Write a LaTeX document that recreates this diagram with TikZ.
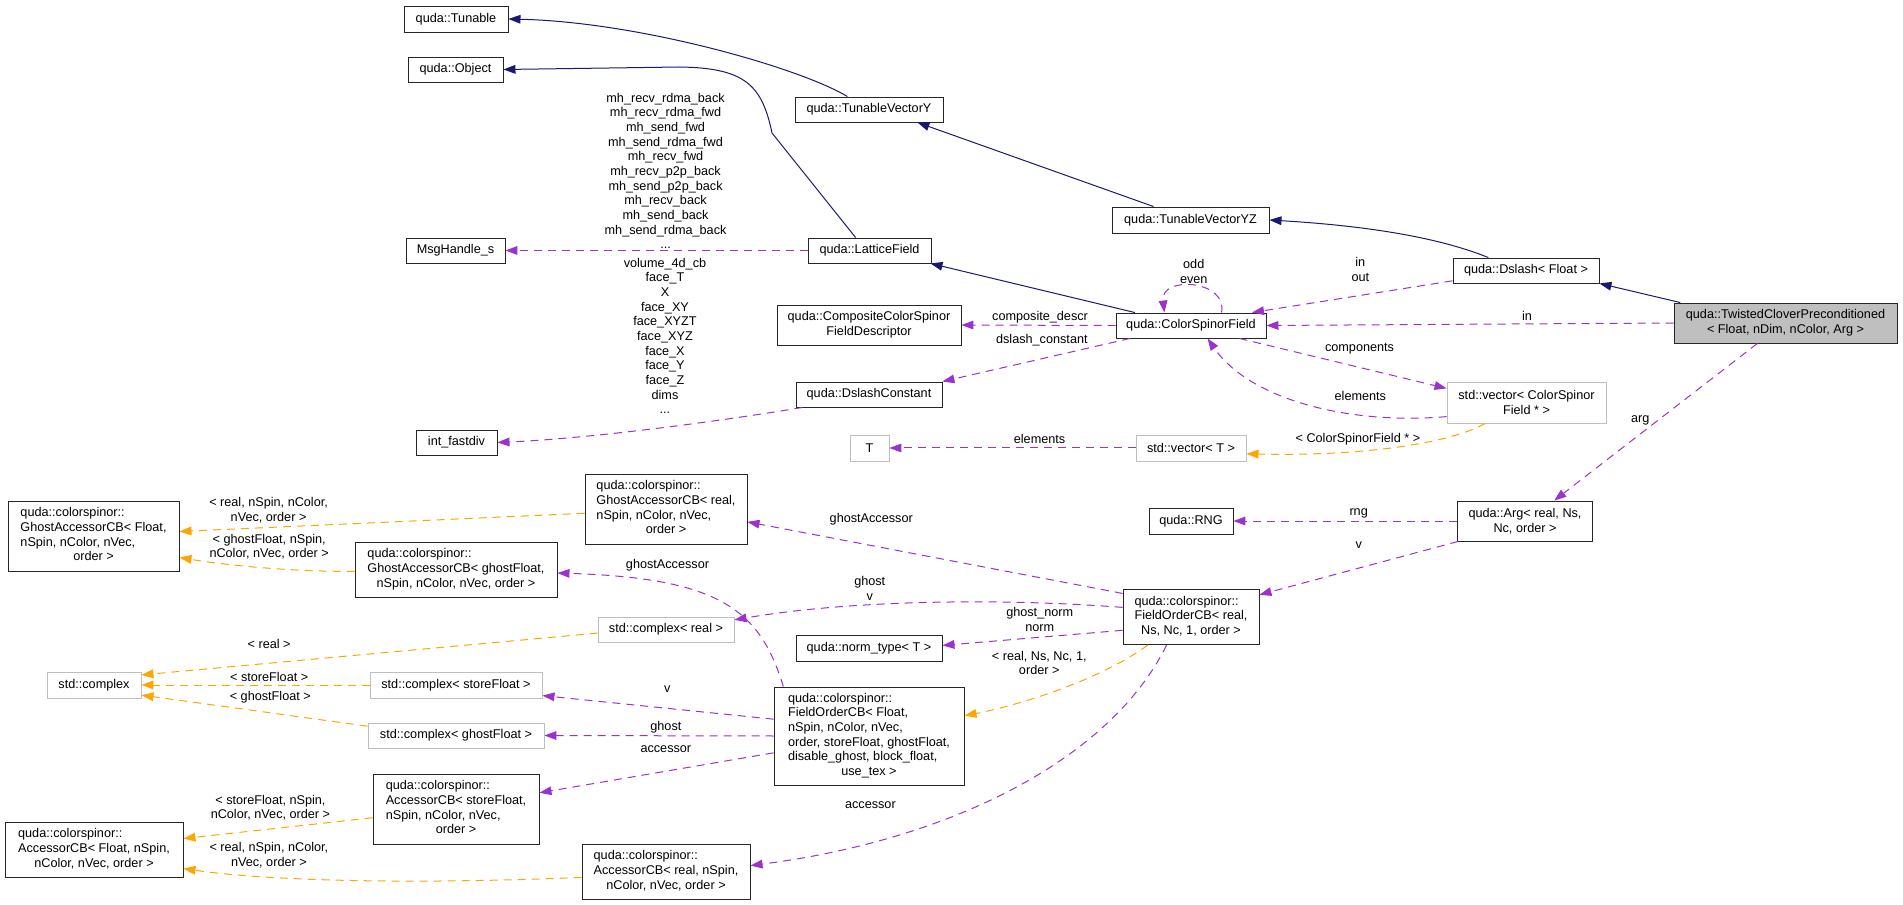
\documentclass[tikz,border=0pt]{standalone}
\usepackage{fontspec}
\setmainfont{Liberation Sans}
\usetikzlibrary{arrows.meta}

\definecolor{inhblue}{HTML}{191970}
\definecolor{usepurple}{HTML}{9A32CD}
\definecolor{tplorange}{HTML}{FFA500}
\definecolor{boxgray}{HTML}{BFBFBF}

\newcommand{\leftlines}[1]{\begin{tabular}{@{}l@{}}#1\end{tabular}}
\newcommand{\midline}[1]{\multicolumn{1}{@{}c@{}}{#1}}

\tikzset{
  cls/.style={draw=black!85, fill=white, line width=0.7pt, inner sep=1pt,
    font=\fontsize{9.5}{11}\selectfont},
  ctr/.style={cls, align=center},
  ext/.style={cls, draw=boxgray},
  cur/.style={ctr, fill=boxgray},
  bx/.style 2 args={minimum width=#1*0.75pt, minimum height=#2*0.75pt},
  lbl/.style={font=\fontsize{9.5}{11}\selectfont, inner sep=0pt, align=center},
  inh/.style={draw=inhblue, line width=0.75pt, -{Triangle[length=9pt,width=6.5pt]}},
  mem/.style={draw=usepurple, line width=0.75pt, dash pattern=on 6pt off 4.5pt,
    -{Triangle[length=9pt,width=6.5pt]}},
  tpi/.style={mem, draw=tplorange},
}

\begin{document}
\begin{tikzpicture}[x=0.75pt,y=-0.75pt]
  \fill[white] (0,0) rectangle (1903,905);
  \useasboundingbox (0,0) rectangle (1903,905);

  \node[cls,bx={104}{26}] (tun) at (456,19) {quda::Tunable};
  \node[cls,bx={95}{25}] (obj) at (455.5,69.5) {quda::Object};
  \node[cls,bx={99}{25}] (msg) at (455.5,250.5) {MsgHandle\_s};
  \node[cls,bx={81}{25}] (fdiv) at (456.5,442.5) {int\_fastdiv};
  \node[cls,bx={171}{70}] (gaF) at (93.5,536)
    {\leftlines{quda::colorspinor::\\GhostAccessorCB< Float,\\nSpin, nColor, nVec,\\\midline{order >}}};
  \node[ext,bx={94}{26}] (cplx) at (94,685) {std::complex};
  \node[cls,bx={178}{55}] (acF) at (94,849.5)
    {\leftlines{quda::colorspinor::\\AccessorCB< Float, nSpin,\\\midline{nColor, nVec, order >}}};
  \node[cls,bx={202}{55}] (gaG) at (456,569.5)
    {\leftlines{quda::colorspinor::\\GhostAccessorCB< ghostFloat,\\\midline{nSpin, nColor, nVec, order >}}};
  \node[ext,bx={172}{26}] (cS) at (456,685) {std::complex< storeFloat >};
  \node[ext,bx={176}{25}] (cG) at (456,735.5) {std::complex< ghostFloat >};
  \node[cls,bx={166}{70}] (acS) at (456,809)
    {\leftlines{quda::colorspinor::\\AccessorCB< storeFloat,\\nSpin, nColor, nVec,\\\midline{order >}}};
  \node[cls,bx={162}{70}] (gaR) at (666,509)
    {\leftlines{quda::colorspinor::\\GhostAccessorCB< real,\\nSpin, nColor, nVec,\\\midline{order >}}};
  \node[ext,bx={136}{25}] (cR) at (666,629.5) {std::complex< real >};
  \node[cls,bx={168}{55}] (acR) at (666,871.5)
    {\leftlines{quda::colorspinor::\\AccessorCB< real, nSpin,\\\midline{nColor, nVec, order >}}};
  \node[cls,bx={148}{25}] (tvy) at (869,109.5) {quda::TunableVectorY};
  \node[cls,bx={123}{25}] (lat) at (869.5,250.5) {quda::LatticeField};
  \node[ctr,bx={184}{40}] (ccsfd) at (869,325) {quda::CompositeColorSpinor\\FieldDescriptor};
  \node[cls,bx={146}{25}] (dc) at (869,394.5) {quda::DslashConstant};
  \node[ext,bx={39}{26}] (T) at (869.5,448) {T};
  \node[cls,bx={146}{26}] (nt) at (869,648) {quda::norm\_type< T >};
  \node[cls,bx={190}{98}] (focF) at (869,736)
    {\leftlines{quda::colorspinor::\\FieldOrderCB< Float,\\nSpin, nColor, nVec,\\order, storeFloat, ghostFloat,\\disable\_ghost, block\_float,\\\midline{use\_tex >}}};
  \node[cls,bx={157}{26}] (tvyz) at (1190.5,220) {quda::TunableVectorYZ};
  \node[cls,bx={150}{25}] (csf) at (1191,325.5) {quda::ColorSpinorField};
  \node[ext,bx={110}{26}] (vecT) at (1191,448) {std::vector< T >};
  \node[cls,bx={84}{26}] (rng) at (1191,521) {quda::RNG};
  \node[cls,bx={136}{55}] (focR) at (1191,617)
    {\leftlines{quda::colorspinor::\\FieldOrderCB< real,\\\midline{Ns, Nc, 1, order >}}};
  \node[cls,bx={146}{25}] (dsl) at (1526,270.5) {quda::Dslash< Float >};
  \node[ext,bx={159}{41},align=center] (vecC) at (1526.5,402.5) {std::vector< ColorSpinor\\Field * >};
  \node[ctr,bx={135}{40}] (arg) at (1525,521) {quda::Arg< real, Ns,\\Nc, order >};
  \node[cur,bx={223}{40}] (tcp) at (1785.5,323) {quda::TwistedCloverPreconditioned\\< Float, nDim, nColor, Arg >};

  \draw[inh] (tvy.149) .. controls (800,68) and (640,22) .. (tun.east);
  \draw[inh] (lat.137) -- (772,133) .. controls (762,85) and (745,68) .. (680,67) -- (obj.east);
  \draw[inh] (tvyz.160) -- (tvy.-15);
  \draw[inh] (dsl.161) .. controls (1440,238) and (1370,226) .. (tvyz.east);
  \draw[inh] (tcp.169) -- (dsl.-10);
  \draw[inh] (csf.167) -- (lat.-12);

  \draw[mem] (lat.west) -- node[lbl,pos=.47,yshift=59.6pt]
    {mh\_recv\_rdma\_back\\mh\_recv\_rdma\_fwd\\mh\_send\_fwd\\mh\_send\_rdma\_fwd\\mh\_recv\_fwd\\mh\_recv\_p2p\_back\\mh\_send\_p2p\_back\\mh\_recv\_back\\mh\_send\_back\\mh\_send\_rdma\_back\\...} (msg.east);
  \draw[mem] (dc.191) .. controls (740,418) and (600,438) .. node[lbl,pos=.5,yshift=68.6pt]
    {volume\_4d\_cb\\face\_T\\X\\face\_XY\\face\_XYZT\\face\_XYZ\\face\_X\\face\_Y\\face\_Z\\dims\\...} (fdiv.east);
  \draw[mem] (csf.west) -- node[lbl,pos=.49,yshift=6pt]{composite\_descr} (ccsfd.east);
  \draw[mem] (csf.192) -- node[lbl,pos=.47,yshift=14.2pt]{dslash\_constant} (dc.10);
  \draw[mem] (csf.23) .. controls (1228,280) and (1160,275) .. node[lbl,pos=.5,yshift=11pt]{odd\\even} (csf.154);
  \draw[mem] (dsl.188) -- node[lbl,pos=.46,yshift=19.4pt]{in\\out} (csf.12);
  \draw[mem] (tcp.west) -- node[lbl,pos=.36,yshift=6pt]{in} (csf.east);
  \draw[mem] (csf.-15) -- node[lbl,pos=.58,yshift=14.2pt]{components} (vecC.170);
  \draw[mem] (vecC.190) .. controls (1350,425) and (1250,400) .. node[lbl,pos=.3,yshift=14.2pt]{elements} (csf.-38);
  \draw[mem] (tcp.216) -- node[lbl,pos=.49,xshift=-13.2pt]{arg} (arg.35);
  \draw[mem] (arg.west) -- node[lbl,pos=.44,yshift=6pt]{rng} (rng.east);
  \draw[mem] (arg.197) -- node[lbl,pos=.5,yshift=17.2pt]{v} (focR.18);
  \draw[mem] (vecT.west) -- node[lbl,pos=.39,yshift=6.75pt]{elements} (T.east);
  \draw[mem] (focR.161) -- node[lbl,pos=.67,yshift=19.7pt]{ghostAccessor} (gaR.-9);
  \draw[mem] (focR.172) .. controls (1000,598) and (850,600) .. node[lbl,pos=.64,yshift=12.4pt]{ghost\\v} (cR.8);
  \draw[mem] (focR.191) -- node[lbl,pos=.46,yshift=13.1pt]{ghost\_norm\\norm} (nt.2);
  \draw[mem] (focR.229) .. controls (1110,760) and (950,840) .. node[lbl,pos=.75,xshift=-16pt,yshift=23.5pt]{accessor} (acR.4);
  \draw[mem] (focF.150) .. controls (760,610) and (720,578) .. node[lbl,pos=.72,yshift=14.3pt]{ghostAccessor} (gaG.-2);
  \draw[mem] (focF.170) -- node[lbl,pos=.46,yshift=14.6pt]{v} (cS.-7);
  \draw[mem] (focF.west) -- node[lbl,pos=.47,yshift=6.75pt]{ghost} (cG.east);
  \draw[mem] (focF.190) -- node[lbl,pos=.46,yshift=16.7pt]{accessor} (acS.11);

  \draw[tpi] (gaR.183) -- node[lbl,pos=.78,yshift=12.9pt]{< real, nSpin, nColor,\\nVec, order >} (gaF.3);
  \draw[tpi] (gaG.181) .. controls (300,572) and (230,566) .. node[lbl,pos=.48,yshift=16.1pt]{< ghostFloat, nSpin,\\nColor, nVec, order >} (gaF.-14);
  \draw[tpi] (cR.183) -- node[lbl,pos=.72,yshift=14.3pt]{< real >} (cplx.12);
  \draw[tpi] (cS.west) -- node[lbl,pos=.44,yshift=6pt]{< storeFloat >} (cplx.east);
  \draw[tpi] (cG.174) -- node[lbl,pos=.43,yshift=11.7pt]{< ghostFloat >} (cplx.-12);
  \draw[tpi] (acS.186) -- node[lbl,pos=.54,yshift=16pt]{< storeFloat, nSpin,\\nColor, nVec, order >} (acF.7);
  \draw[tpi] (acR.184) .. controls (400,885) and (260,880) .. node[lbl,pos=.7,yshift=16.3pt]{< real, nSpin, nColor,\\nVec, order >} (acF.-12);
  \draw[tpi] (focR.213) .. controls (1100,680) and (1020,705) .. node[lbl,pos=.6,yshift=25pt]{< real, Ns, Nc, 1,\\order >} (focF.12);
  \draw[tpi] (vecC.207) .. controls (1440,448) and (1340,456) .. node[lbl,pos=.6,yshift=9.2pt]{< ColorSpinorField * >} (vecT.-6);
\end{tikzpicture}
\end{document}
